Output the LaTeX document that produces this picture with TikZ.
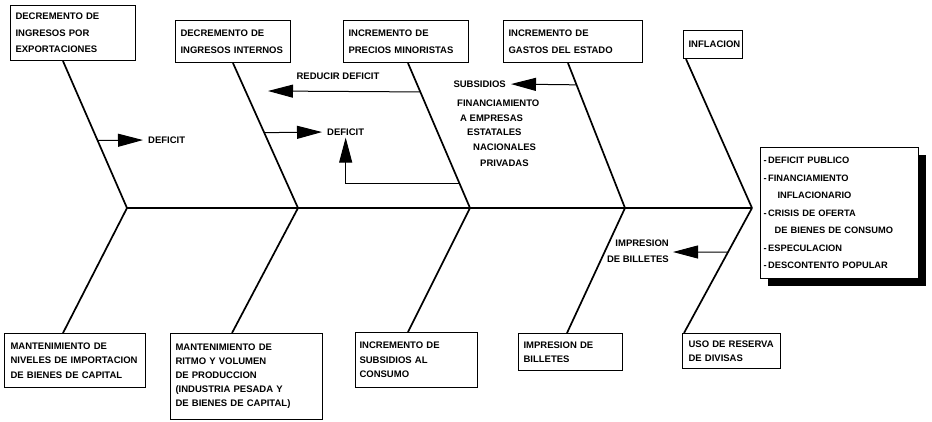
\documentclass[tikz,border=0pt]{standalone}
\usepackage{fontspec}
\setmainfont{Liberation Sans}
\usetikzlibrary{arrows.meta,calc,shadows}
\begin{document}
\begin{tikzpicture}[x=1pt,y=-1pt,
  box/.style={draw,line width=1.1pt,anchor=north west,inner xsep=5pt,inner ysep=0pt,align=left,
    execute at begin node={\hyphenpenalty=10000\exhyphenpenalty=10000}},
  fA/.style={font=\bfseries\fontsize{9.5}{16.5}\selectfont},
  fB/.style={font=\bfseries\fontsize{9.5}{14.5}\selectfont},
  lbl/.style={font=\bfseries\fontsize{9.5}{16}\selectfont,inner sep=0pt},
  bone/.style={line width=1.7pt},
  spine/.style={line width=2.8pt},
  arr/.style={line width=1pt,-{Triangle[length=25pt,width=13pt]}},
]
\useasboundingbox (0,0) rectangle (932,421);

% forks on the spine
\coordinate (f1) at (127,208);
\coordinate (f2) at (298,208);
\coordinate (f3) at (470,208);
\coordinate (f4) at (625,208);
\coordinate (f5) at (752,208);

% top boxes
\node[box,fA,text width=115pt,minimum height=55pt] (t1) at (10,5) {DECREMENTO DE\\INGRESOS POR\\EXPORTACIONES};
\node[box,fA,text width=105pt,minimum height=42pt] (t2) at (175,20) {DECREMENTO DE\\INGRESOS INTERNOS};
\node[box,fA,text width=115pt,minimum height=42pt] (t3) at (343,20) {INCREMENTO DE\\PRECIOS MINORISTAS};
\node[box,fA,text width=129pt,minimum height=42pt] (t4) at (503,20) {INCREMENTO DE\\GASTOS DEL ESTADO};
\node[box,fA,text width=49pt,minimum height=28pt] (t5) at (683,30) {INFLACION};

% bottom boxes
\node[box,fB,inner xsep=6pt,text width=129pt,minimum height=54pt] (b1) at (4,333) {MANTENIMIENTO DE\\NIVELES DE IMPORTACION\\DE BIENES DE CAPITAL};
\node[box,fB,font=\bfseries\fontsize{9.5}{14}\selectfont,text width=142pt,minimum height=86pt] (b2) at (170,333) {MANTENIMIENTO DE\\RITMO Y VOLUMEN\\DE PRODUCCION\\(INDUSTRIA PESADA Y\\DE BIENES DE CAPITAL)};
\node[box,fB,inner xsep=4pt,text width=114pt,minimum height=55pt] (b3) at (355,332) {INCREMENTO DE\\SUBSIDIOS AL\\CONSUMO};
\node[box,fB,text width=94pt,minimum height=37pt] (b4) at (518,333) {IMPRESION DE\\BILLETES};
\node[box,fB,inner xsep=6pt,text width=86pt,minimum height=35pt] (b5) at (682,333) {USO DE RESERVA\\DE DIVISAS};

% right box with shadow
\node[box,fill=white,inner xsep=3pt,text width=152pt,minimum height=131pt,
      font=\bfseries\fontsize{9.3}{17.5}\selectfont,
      drop shadow={shadow xshift=7pt,shadow yshift=-7pt,fill=black,opacity=1}] (r) at (760,147)
  {-\,DEFICIT PUBLICO\\-\,FINANCIAMIENTO\\\hspace*{1.5em}INFLACIONARIO\\-\,CRISIS DE OFERTA\\\hspace*{1.2em}DE BIENES DE CONSUMO\\-\,ESPECULACION\\-\,DESCONTENTO POPULAR};

% bone ends at boxes
\coordinate (t1s) at ([xshift=53pt]t1.south west);
\coordinate (t2s) at ([xshift=58pt]t2.south west);
\coordinate (t3s) at ([xshift=65pt]t3.south west);
\coordinate (t4s) at ([xshift=65pt]t4.south west);
\coordinate (t5s) at ([xshift=3pt]t5.south west);
\coordinate (b1s) at ([xshift=59pt]b1.north west);
\coordinate (b2s) at ([xshift=62pt]b2.north west);
\coordinate (b3s) at ([xshift=53pt]b3.north west);
\coordinate (b4s) at ([xshift=49pt]b4.north west);
\coordinate (b5s) at ([xshift=2pt]b5.north west);

% spine and bones
\draw[spine] (f1) -- (f5);
\foreach \i in {1,...,5}{
  \draw[bone] (t\i s) -- (f\i);
  \draw[bone] (f\i) -- (b\i s);
}

% labels
\node[lbl,anchor=west] (d1) at (148,140) {DEFICIT};
\node[lbl,anchor=west] (d2) at (327,132) {DEFICIT};
\node[lbl] (red) at (338,76) {REDUCIR DEFICIT};
\coordinate (redtip) at (268,91);
\node[lbl,anchor=east] (sub) at (506,84) {SUBSIDIOS};
\node[lbl,anchor=west] (fin1) at (457,103) {FINANCIAMIENTO};
\node[lbl,anchor=west] (fin2) at (460,118) {A EMPRESAS};
\node[lbl,anchor=west] (fin3) at (467,132) {ESTATALES};
\node[lbl,anchor=west] (fin4) at (473,147) {NACIONALES};
\node[lbl,anchor=west] (fin5) at (480,163) {PRIVADAS};
\node[lbl,anchor=east,align=right] (imp) at (669,251) {IMPRESION\\DE BILLETES};

% arrows
\draw[arr,shorten >=5pt] ($(t1s)!0.54!(f1)$) -- (d1.west);
\draw[arr,shorten >=5pt] ($(t2s)!0.48!(f2)$) -- (d2.west);
\draw[arr,shorten >=2pt] ($(t3s)!0.829!(f3)$) -| (d2.south);
\draw[arr] ($(t3s)!0.199!(f3)$) -- (redtip);
\draw[arr,shorten >=5pt] ($(t4s)!0.15!(f4)$) -- (sub.east);
\draw[arr,shorten >=4pt] ($(f5)!0.352!(b5s)$) -- (imp.east |- 0,252);
\end{tikzpicture}
\end{document}
